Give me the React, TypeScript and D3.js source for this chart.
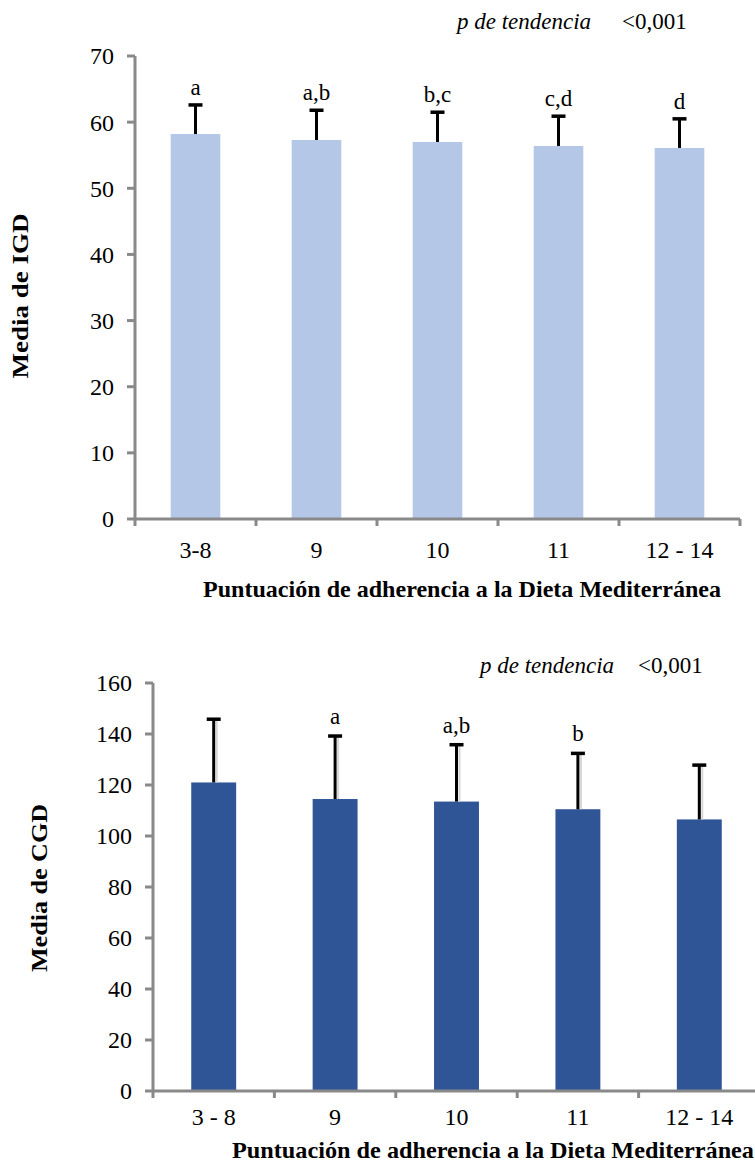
import React, { useEffect, useRef } from "react";
import * as d3 from "d3";

// top panel: IGD
const igdCategories = ["3-8", "9", "10", "11", "12 - 14"];
const igdMeans = [58.2, 57.3, 57.0, 56.4, 56.1];
const igdUpper = [62.6, 61.8, 61.5, 60.9, 60.5];
const igdLetters = ["a", "a,b", "b,c", "c,d", "d"];
const igdTicks = [0, 10, 20, 30, 40, 50, 60, 70];

// bottom panel: CGD
const cgdCategories = ["3 - 8", "9", "10", "11", "12 - 14"];
const cgdMeans = [121.0, 114.5, 113.5, 110.5, 106.5];
const cgdUpper = [145.8, 139.2, 135.8, 132.4, 127.8];
const cgdLetters = ["", "a", "a,b", "b", ""];
const cgdTicks = [0, 20, 40, 60, 80, 100, 120, 140, 160];

const xTitle = "Puntuación de adherencia a la Dieta Mediterránea";
const pLabel = "p de tendencia";
const pValue = "<0,001";

const FONT = "Liberation Serif";
const AXIS = "#898989";

function drawPanel(svg, o) {
  const g = svg.append("g").attr("font-family", FONT);
  const y = d3.scaleLinear().domain([0, o.max]).range([o.y0, o.y1]);
  const x = d3.scaleBand().domain(o.categories).range([o.x0, o.x1]);
  const bw = x.bandwidth() * o.barFrac;

  // bars
  g.selectAll(".bar").data(o.categories).join("rect")
    .attr("x", d => x(d) + (x.bandwidth() - bw) / 2)
    .attr("width", bw)
    .attr("y", (d, i) => y(o.means[i]))
    .attr("height", (d, i) => y(0) - y(o.means[i]) - 1)
    .attr("fill", o.color);

  // error bars
  const eb = g.selectAll(".eb").data(o.categories).join("g")
    .attr("transform", d => `translate(${x(d) + x.bandwidth() / 2},0)`);
  if (o.shadow) {
    eb.append("line")
      .attr("x1", 3).attr("x2", 3)
      .attr("y1", (d, i) => y(o.means[i]))
      .attr("y2", (d, i) => y(o.upper[i]) + 1)
      .attr("stroke", "#d6d6d6").attr("stroke-width", 2);
  }
  eb.append("line")
    .attr("y1", (d, i) => y(o.means[i]))
    .attr("y2", (d, i) => y(o.upper[i]))
    .attr("stroke", "#000").attr("stroke-width", 3);
  eb.append("line")
    .attr("x1", -7).attr("x2", 7)
    .attr("y1", (d, i) => y(o.upper[i]))
    .attr("y2", (d, i) => y(o.upper[i]))
    .attr("stroke", "#000").attr("stroke-width", 3.5);
  eb.append("text")
    .attr("y", (d, i) => y(o.upper[i]) - o.letterGap)
    .attr("text-anchor", "middle")
    .attr("font-size", 23)
    .text((d, i) => o.letters[i]);

  // y axis
  g.append("line")
    .attr("x1", o.x0).attr("x2", o.x0)
    .attr("y1", y(0)).attr("y2", y(o.max))
    .attr("stroke", AXIS).attr("stroke-width", 3);
  g.selectAll(".yt").data(o.ticks).join("line")
    .attr("x1", o.x0 - 8).attr("x2", o.x0)
    .attr("y1", d => y(d)).attr("y2", d => y(d))
    .attr("stroke", AXIS).attr("stroke-width", 3);
  g.selectAll(".yl").data(o.ticks).join("text")
    .attr("x", o.x0 - 21).attr("y", d => y(d)).attr("dy", "0.35em")
    .attr("text-anchor", "end")
    .attr("font-size", 24)
    .text(d => d);

  // x axis
  g.append("line")
    .attr("x1", o.x0).attr("x2", o.x1)
    .attr("y1", y(0)).attr("y2", y(0))
    .attr("stroke", AXIS).attr("stroke-width", 3);
  const bounds = o.categories.map(c => x(c)).concat([o.x1]);
  g.selectAll(".xt").data(bounds).join("line")
    .attr("x1", d => d).attr("x2", d => d)
    .attr("y1", y(0)).attr("y2", y(0) + 7)
    .attr("stroke", AXIS).attr("stroke-width", 3);
  g.selectAll(".xl").data(o.categories).join("text")
    .attr("x", d => x(d) + x.bandwidth() / 2).attr("y", o.xLabelY)
    .attr("text-anchor", "middle")
    .attr("font-size", 24)
    .text(d => d);

  // titles
  g.append("text")
    .attr("x", o.xTitleX).attr("y", o.xTitleY)
    .attr("text-anchor", "middle")
    .attr("textLength", o.xTitleLen).attr("lengthAdjust", "spacingAndGlyphs")
    .attr("font-size", 23).attr("font-weight", "bold")
    .text(xTitle);
  g.append("text")
    .attr("transform", `translate(${o.yTitleX},${o.yTitleY}) rotate(-90)`)
    .attr("text-anchor", "middle")
    .attr("textLength", o.yTitleLen).attr("lengthAdjust", "spacingAndGlyphs")
    .attr("font-size", 23).attr("font-weight", "bold")
    .text(o.yTitle);
  g.append("text")
    .attr("x", o.pX).attr("y", o.pY)
    .attr("font-size", 23).attr("font-style", "italic")
    .text(pLabel);
  g.append("text")
    .attr("x", o.pvX).attr("y", o.pY)
    .attr("font-size", 23)
    .text(pValue);
}

export default function App() {
  const ref = useRef(null);

  useEffect(() => {
    const svg = d3.select(ref.current);
    svg.selectAll("*").remove();

    drawPanel(svg, {
      categories: igdCategories, means: igdMeans, upper: igdUpper, letters: igdLetters,
      ticks: igdTicks, max: 70, color: "#b4c7e7", shadow: false,
      x0: 135, x1: 740, y0: 519, y1: 56, barFrac: 0.41, letterGap: 10,
      xLabelY: 558, xTitleX: 462, xTitleY: 597, xTitleLen: 518,
      yTitle: "Media de IGD", yTitleX: 28, yTitleY: 296, yTitleLen: 165,
      pX: 457, pvX: 622, pY: 29,
    });

    drawPanel(svg, {
      categories: cgdCategories, means: cgdMeans, upper: cgdUpper, letters: cgdLetters,
      ticks: cgdTicks, max: 160, color: "#2f5597", shadow: true,
      x0: 153, x1: 760, y0: 1091, y1: 683, barFrac: 0.37, letterGap: 12,
      xLabelY: 1125, xTitleX: 493, xTitleY: 1158, xTitleLen: 522,
      yTitle: "Media de CGD", yTitleX: 47, yTitleY: 888, yTitleLen: 168,
      pX: 480, pvX: 638, pY: 673,
    });
  }, []);

  return (
    <svg ref={ref} width={755} height={1165}
      style={{ position: "absolute", top: 0, left: 0, background: "#fff" }} />
  );
}
